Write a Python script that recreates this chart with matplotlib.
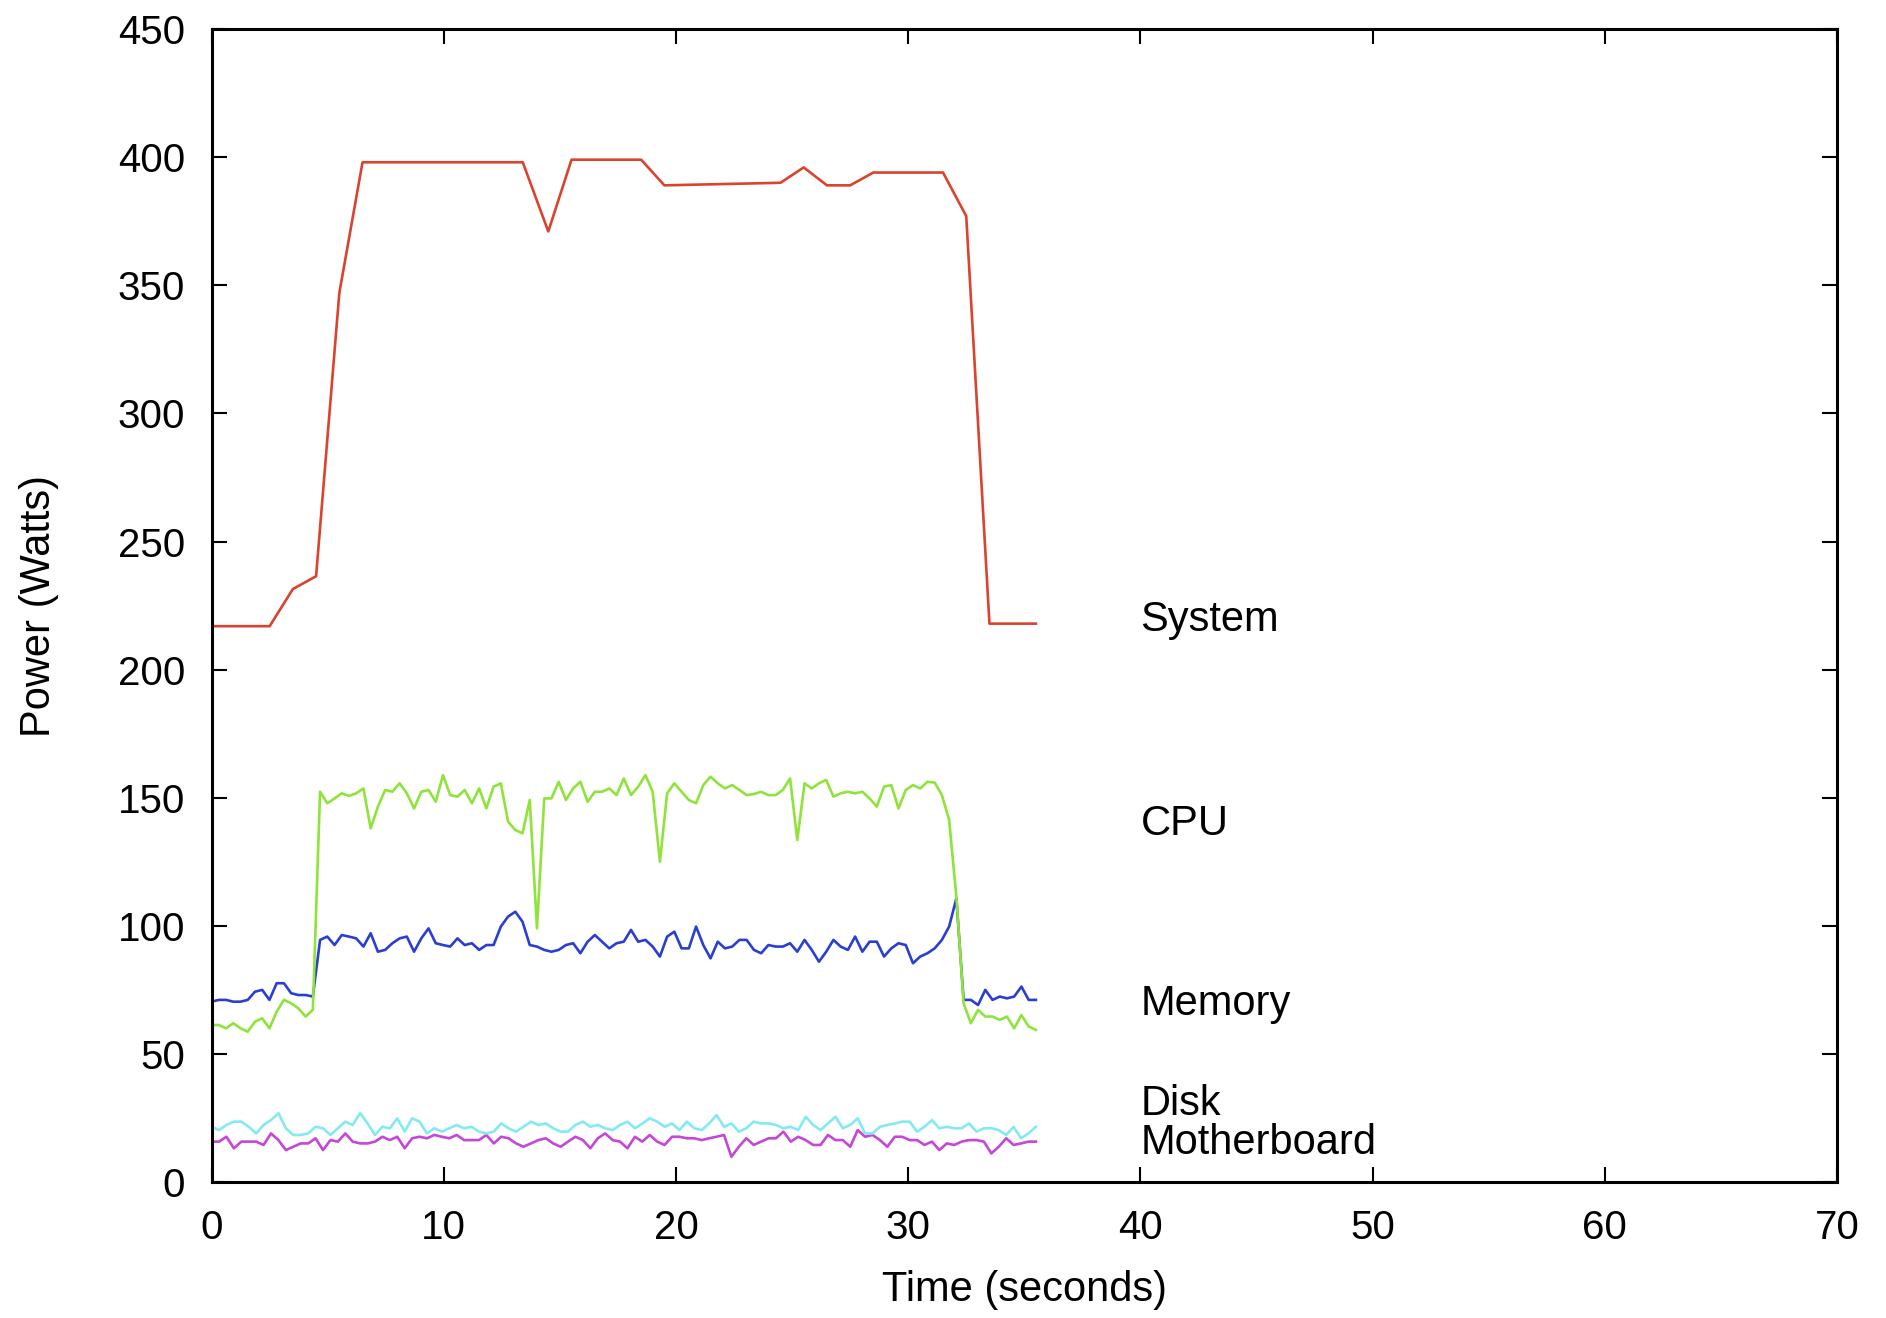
import numpy as np
import matplotlib
matplotlib.use("Agg")
import matplotlib.pyplot as plt

plt.rcParams['font.family'] = ['Liberation Sans', 'DejaVu Sans']

# System power, coarse samples (time in s, watts)
system_t = [0, 2.5, 3.5, 4.5, 5.5, 6.5, 13.4, 14.5, 15.5, 18.5, 19.5, 24.5,
            25.5, 26.5, 27.5, 28.5, 31.5, 32.5, 33.5, 35.5]
system_w = [217, 217, 231.5, 236.5, 347, 398, 398, 371, 399, 399, 389, 390,
            396, 389, 389, 394, 394, 377, 218, 218]

cpu_w = [61.4, 61.4, 60.1, 62.1, 60.1, 58.8, 62.7, 64.0, 60.1, 66.6, 71.2, 69.9, 67.9, 64.7, 67.3,
         152.4, 147.9, 149.8, 151.8, 150.8, 151.8, 153.7, 138.1, 146.6, 153.1, 152.4, 155.7, 151.8,
         145.9, 152.4, 153.1, 148.5, 158.9, 151.1, 150.5, 153.1, 147.9, 153.7, 145.9, 154.4,
         155.7, 140.7, 137.5, 136.2, 149.2, 99.1, 149.8, 149.8, 156.3, 149.2, 153.7, 156.3, 148.5,
         152.4, 152.4, 153.7, 151.1, 157.6, 151.1, 154.4, 158.9, 152.4, 125.1, 151.8, 155.7, 152.4,
         149.2, 147.9, 155.0, 158.3, 155.7, 153.7, 155.0, 153.1, 151.1, 151.5, 152.4, 151.1,
         151.1, 153.1, 157.6, 133.6, 155.7, 153.7, 155.7, 157.0, 150.5, 151.8, 152.4, 151.8, 152.4,
         149.8, 146.6, 154.4, 155.0, 145.9, 153.1, 155.0, 153.7, 156.3, 156.0, 151.1, 141.4, 111.5,
         69.9, 62.1, 67.3, 64.7, 64.7, 63.4, 64.7, 60.1, 65.3, 60.8, 59.5]

memory_w = [70.5, 71.2, 71.2, 70.5, 70.5, 71.2, 74.4, 75.1, 71.2, 77.7, 77.7, 73.8, 73.1, 73.1, 72.5,
            94.6, 95.9, 92.6, 96.5, 95.9, 95.2, 92.0, 97.2, 90.0, 90.7, 93.3, 95.2, 95.9, 90.0,
            95.2, 99.1, 93.3, 92.6, 92.0, 95.2, 92.6, 93.3, 90.7, 92.6, 92.6,
            99.8, 103.7, 105.6, 101.7, 92.6, 92.0, 90.7, 90.0, 90.7, 92.6, 93.3, 89.4, 93.9, 96.5,
            93.9, 91.3, 93.3, 93.9, 98.5, 93.9, 94.6, 92.0, 88.1, 95.9, 97.8, 91.3, 91.3, 99.8,
            92.6, 87.4, 93.9, 91.3, 92.0, 94.6, 94.6, 90.7, 89.4, 92.6,
            92.0, 92.0, 93.3, 90.0, 94.6, 90.7, 86.1, 90.0, 94.6, 92.0, 90.7, 95.9, 90.0, 93.9,
            93.9, 88.1, 91.3, 93.3, 92.6, 85.5, 88.1, 89.4, 91.3, 94.6, 99.8, 110.8,
            71.2, 71.2, 69.2, 75.1, 71.2, 72.5, 71.8, 72.5, 76.4, 71.2, 71.2]

disk_w = [21.7, 20.4, 22.4, 23.7, 23.7, 21.7, 19.1, 22.4, 24.3, 27.0, 21.1, 18.5, 18.5, 19.1,
          21.7, 21.1, 18.5, 21.1, 23.7, 22.4, 27.0, 23.0, 18.5, 21.7, 21.1, 25.0, 19.8, 25.0,
          23.7, 19.1, 21.1, 19.8, 21.1, 22.4, 21.1, 21.7, 19.8, 19.1, 19.8,
          23.0, 21.1, 19.8, 21.7, 23.7, 22.4, 23.0, 21.1, 19.8, 19.8, 22.4, 23.7, 21.7, 22.4,
          21.1, 20.4, 22.4, 23.7, 21.1, 23.0, 25.0, 23.7, 21.7, 23.0, 20.4, 23.7, 21.1, 20.4,
          23.0, 26.3, 21.7, 23.0, 19.8, 21.1, 23.7, 23.0, 23.0,
          22.4, 21.1, 21.7, 20.4, 25.6, 22.4, 20.4, 23.0, 25.6, 21.1, 22.4, 25.0, 19.1, 19.1,
          21.7, 22.4, 23.0, 23.7, 23.7, 19.8, 21.7, 24.3, 21.1, 21.7, 21.1, 21.1, 23.0, 19.8,
          21.1, 21.1, 20.4, 18.5, 21.7, 17.2, 19.1, 21.7]

motherboard_w = [15.9, 15.9, 17.8, 13.3, 15.9, 15.9, 15.9, 14.6, 19.1, 16.5, 12.6, 13.9, 15.2,
                 15.2, 17.2, 12.6, 16.5, 15.9, 19.1, 15.9, 15.2, 15.2, 15.9, 17.8, 16.5, 17.8,
                 13.3, 17.2, 17.8, 17.2, 18.5, 17.8, 17.2, 18.5, 16.5, 16.5, 16.5, 18.5, 15.2,
                 17.8, 17.2, 15.2, 13.9, 15.2, 16.5, 17.2, 15.2, 13.9, 15.9, 17.8, 16.5, 13.3,
                 17.2, 19.1, 16.5, 15.9, 13.3, 17.8, 15.9, 18.5, 15.9, 14.6, 17.8, 17.8, 17.2,
                 17.2, 16.5, 17.2, 17.8, 18.5, 10.0, 13.9, 17.2, 14.6, 15.9, 17.2,
                 17.2, 19.8, 15.9, 17.8, 16.5, 14.6, 14.6, 18.5, 16.5, 16.5, 13.9, 20.4, 17.8,
                 18.5, 16.5, 13.9, 17.8, 17.8, 16.5, 16.5, 14.6, 15.9, 12.6, 15.2, 14.6, 15.9,
                 16.5, 16.5, 15.9, 11.3, 13.9, 17.2, 14.6, 15.2, 15.9, 15.9]

T_END = 35.5  # last sample time (s)

labels = ['System', 'CPU', 'Memory', 'Disk', 'Motherboard']
label_y = [219.5, 140, 69.5, 30.5, 15.5]
colors = ['#d9432f', '#8fe33b', '#2a3fd2', '#84e9f2', '#c447d6']

fig = plt.figure(figsize=(18.86, 13.18), dpi=100)
ax = fig.add_axes([0.1122, 0.1029, 0.8618, 0.8751])

fine = [cpu_w, memory_w, disk_w, motherboard_w]
# draw back-to-front: motherboard, disk, memory, cpu, then system
for vals, c in zip(fine[::-1], colors[1:][::-1]):
    t = np.linspace(0, T_END, len(vals))
    ax.plot(t, vals, color=c, lw=1.9)
ax.plot(system_t, system_w, color=colors[0], lw=1.9)

for name, y in zip(labels, label_y):
    ax.text(40, y, name, fontsize=30, ha='left', va='center')

ax.set_xlim(0, 70)
ax.set_ylim(0, 450)
ax.set_xticks(range(0, 71, 10))
ax.set_yticks(range(0, 451, 50))
ax.tick_params(direction='in', length=11, width=1.5, labelsize=29, pad=19,
               top=True, right=True)
for s in ax.spines.values():
    s.set_linewidth(2.2)

ax.set_xlabel('Time (seconds)', fontsize=30, labelpad=17)
ax.set_ylabel('Power (Watts)', fontsize=30, labelpad=42)

fig.savefig('out.png', dpi=100)
